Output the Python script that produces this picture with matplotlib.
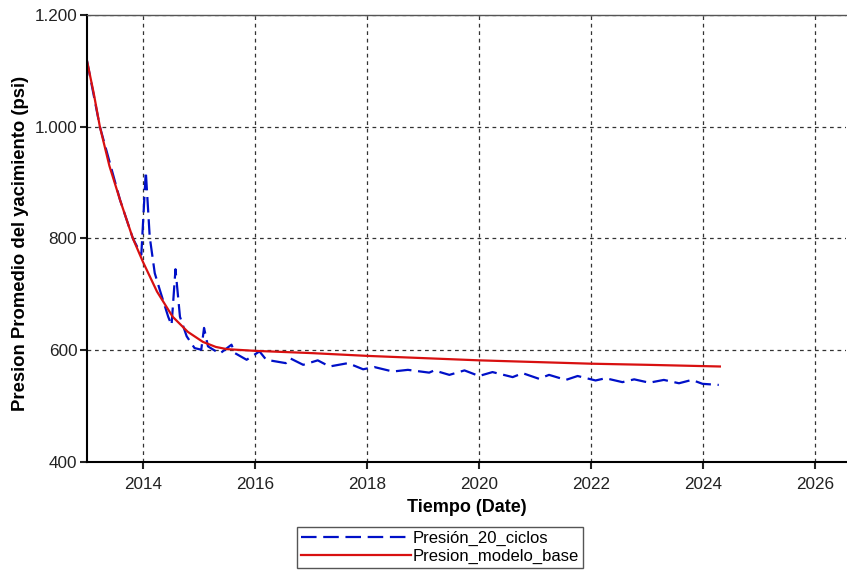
"""
Presion promedio del yacimiento: modelo base vs 20 ciclos
"""
import matplotlib
matplotlib.use('Agg')
import matplotlib.pyplot as plt
import matplotlib.ticker as mticker

plt.rcParams['font.family'] = ['Liberation Sans', 'DejaVu Sans']

# Presion_modelo_base (decimal year, psi)
base_years = [2013.0, 2013.12, 2013.23, 2013.4, 2013.59, 2013.82, 2014.0, 2014.25,
              2014.53, 2014.8, 2015.07, 2015.3, 2015.5, 2016.0, 2017.0, 2018.0,
              2019.0, 2020.0, 2021.0, 2022.0, 2023.0, 2024.3]
base_psi = [1118, 1060, 1000, 930, 869, 800, 758, 705,
            660, 633, 615, 606, 602, 599, 595, 590,
            586, 582, 579, 576, 574, 571]

# Presión_20_ciclos (decimal year, psi)
ciclos_years = [2013.0, 2013.23, 2013.59, 2013.82, 2013.97, 2014.05, 2014.12, 2014.21,
                2014.3, 2014.45, 2014.51, 2014.58, 2014.66, 2014.78, 2014.92, 2015.04,
                2015.09, 2015.16, 2015.37, 2015.58, 2015.64, 2015.85, 2016.08, 2016.2,
                2016.55, 2016.62, 2016.86, 2017.12, 2017.33, 2017.66, 2017.93, 2018.13,
                2018.46, 2018.73, 2019.11, 2019.2, 2019.47, 2019.74, 2020.0, 2020.24,
                2020.6, 2020.78, 2021.07, 2021.25, 2021.55, 2021.76, 2022.08, 2022.26,
                2022.56, 2022.77, 2023.04, 2023.3, 2023.57, 2023.8, 2023.99, 2024.28]
ciclos_psi = [1118, 1000, 869, 800, 771, 920, 803, 738,
              708, 660, 645, 745, 660, 625, 604, 601,
              640, 607, 594, 610, 595, 583, 598, 583,
              577, 586, 574, 582, 571, 577, 566, 570,
              562, 565, 560, 564, 556, 564, 554, 561,
              552, 559, 549, 556, 547, 554, 546, 550,
              543, 548, 542, 547, 541, 547, 540, 538]

year_ticks = [2014, 2016, 2018, 2020, 2022, 2024, 2026]
psi_ticks = [400, 600, 800, 1000, 1200]

fig = plt.figure(figsize=(8.47, 5.74), dpi=100)
ax = fig.add_axes([0.1027, 0.195, 0.896, 0.779])

ax.plot(ciclos_years, ciclos_psi, color='#0010c8', linewidth=1.6,
        dashes=(7, 3), label='Presión_20_ciclos')
ax.plot(base_years, base_psi, color='#d81010', linewidth=1.6,
        label='Presion_modelo_base')

ax.set_xlim(2013.0, 2026.55)
ax.set_ylim(400, 1200)
ax.set_xticks(year_ticks)
ax.set_yticks(psi_ticks)
ax.yaxis.set_major_formatter(mticker.FuncFormatter(
    lambda v, p: f'{int(v):,}'.replace(',', '.')))
ax.tick_params(direction='out', length=5, width=1.5, labelsize=12.3,
               colors='#222222')
ax.tick_params(axis='y', pad=2)
ax.tick_params(axis='x', pad=6)

ax.grid(True, color='#333333', linestyle=(0, (3, 3)), linewidth=0.9)
ax.set_axisbelow(True)

for side in ['left', 'bottom']:
    ax.spines[side].set_linewidth(1.5)
    ax.spines[side].set_color('black')
ax.spines['top'].set_linewidth(1.0)
ax.spines['top'].set_color('#555555')
ax.spines['right'].set_visible(False)

ax.set_xlabel('Tiempo (Date)', fontsize=13, fontweight='bold', labelpad=5)
ax.set_ylabel('Presion Promedio del yacimiento (psi)', fontsize=13.3,
              fontweight='bold')
ax.yaxis.set_label_coords(-0.077, 0.49)

leg = fig.legend(loc='center', bbox_to_anchor=(0.5195, 0.046), fontsize=12,
                 handlelength=6.6, handletextpad=0.1, borderpad=0.25,
                 labelspacing=0.15, fancybox=False, framealpha=1)
leg.get_frame().set_edgecolor('#555555')
leg.get_frame().set_linewidth(1.0)

plt.savefig('out.png', dpi=100)
